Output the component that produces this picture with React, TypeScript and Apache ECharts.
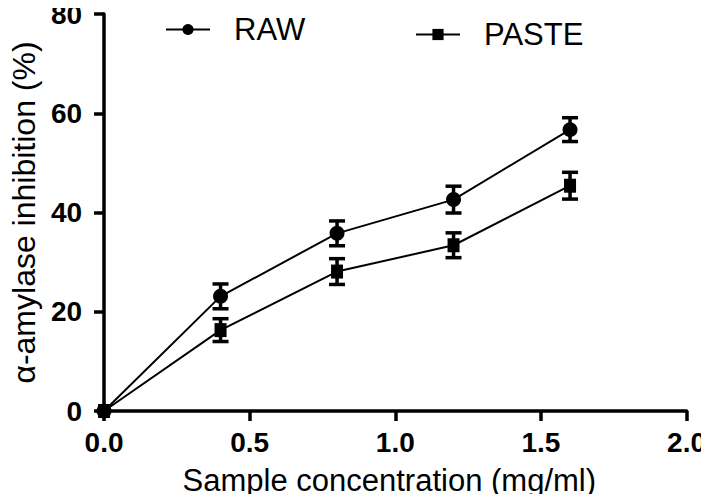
import React, { useEffect, useRef } from "react";
import * as echarts from "echarts";

const concentrations = [0, 0.4, 0.8, 1.2, 1.6];
const rawValues = [0, 23.1, 35.8, 42.6, 56.7];
const rawErrors = [0, 2.5, 2.5, 2.7, 2.4];
const pasteValues = [0, 16.3, 28.1, 33.4, 45.4];
const pasteErrors = [0, 2.3, 2.6, 2.5, 2.7];
const seriesNames = ["RAW", "PASTE"];
const xAxisTitle = "Sample concentration (mg/ml)";
const yAxisTitle = "α-amylase inhibition (%)";

const FONT = "'Liberation Sans', Arial, sans-serif";

function errorSeries(name: string, values: number[], errors: number[]) {
  const data = concentrations
    .map((x, i) => [x, values[i] - errors[i], values[i] + errors[i]])
    .filter((d, i) => errors[i] > 0);
  return {
    type: "custom",
    name: name + "-err",
    data,
    z: 3,
    renderItem: (params: any, api: any) => {
      const x = api.value(0);
      const lo = api.coord([x, api.value(1)]);
      const hi = api.coord([x, api.value(2)]);
      const half = 8;
      const style = { stroke: "#000", lineWidth: 3.5 };
      return {
        type: "group",
        children: [
          { type: "line", shape: { x1: lo[0], y1: lo[1], x2: hi[0], y2: hi[1] }, style },
          { type: "line", shape: { x1: lo[0] - half, y1: lo[1], x2: lo[0] + half, y2: lo[1] }, style },
          { type: "line", shape: { x1: hi[0] - half, y1: hi[1], x2: hi[0] + half, y2: hi[1] }, style },
        ],
      };
    },
  };
}

export default function App() {
  const ref = useRef<HTMLDivElement>(null);
  useEffect(() => {
    if (!ref.current) return;
    const chart = echarts.init(ref.current, null, { renderer: "svg" });
    const axisLabel = { color: "#000", fontFamily: FONT, fontWeight: "bold", fontSize: 28 };
    const legendText = { color: "#000", fontFamily: FONT, fontSize: 31, padding: [0, 0, 0, 19] };
    chart.setOption({
      animation: false,
      backgroundColor: "#fff",
      grid: { left: 99, right: 20, top: 12, bottom: 91, containLabel: false },
      legend: [
        {
          data: [seriesNames[0]],
          left: 165,
          top: 14,
          padding: 0,
          itemWidth: 44,
          itemHeight: 14,
          textStyle: legendText,
        },
        {
          data: [seriesNames[1]],
          left: 415,
          top: 19,
          padding: 0,
          itemWidth: 44,
          itemHeight: 14,
          textStyle: legendText,
        },
      ],
      xAxis: {
        type: "value",
        min: 0,
        max: 2,
        interval: 0.5,
        name: xAxisTitle,
        nameLocation: "middle",
        nameGap: 54,
        nameTextStyle: { color: "#000", fontFamily: FONT, fontSize: 31, padding: [0, 12, 0, 0] },
        axisLine: { lineStyle: { color: "#000", width: 3.5 } },
        axisTick: { length: 10, lineStyle: { color: "#000", width: 3.5 } },
        axisLabel: { ...axisLabel, margin: 17, formatter: (v: number) => v.toFixed(1) },
        splitLine: { show: false },
      },
      yAxis: {
        type: "value",
        min: 0,
        max: 80,
        interval: 20,
        name: yAxisTitle,
        nameLocation: "middle",
        nameGap: 62,
        nameTextStyle: { color: "#000", fontFamily: FONT, fontSize: 32 },
        axisLine: { show: true, lineStyle: { color: "#000", width: 3.5 } },
        axisTick: { show: true, length: 10, lineStyle: { color: "#000", width: 3.5 } },
        axisLabel: { ...axisLabel, margin: 22 },
        splitLine: { show: false },
      },
      series: [
        {
          type: "line",
          name: seriesNames[0],
          data: concentrations.map((x, i) => [x, rawValues[i]]),
          symbol: "circle",
          symbolSize: 15,
          itemStyle: { color: "#000" },
          lineStyle: { color: "#000", width: 2 },
          z: 4,
        },
        {
          type: "line",
          name: seriesNames[1],
          data: concentrations.map((x, i) => [x, pasteValues[i]]),
          symbol: "rect",
          symbolSize: [12, 14],
          itemStyle: { color: "#000" },
          lineStyle: { color: "#000", width: 2 },
          z: 4,
        },
        errorSeries(seriesNames[0], rawValues, rawErrors),
        errorSeries(seriesNames[1], pasteValues, pasteErrors),
      ],
    });
    return () => chart.dispose();
  }, []);
  return <div ref={ref} style={{ width: 709, height: 502, margin: -8 }} />;
}
